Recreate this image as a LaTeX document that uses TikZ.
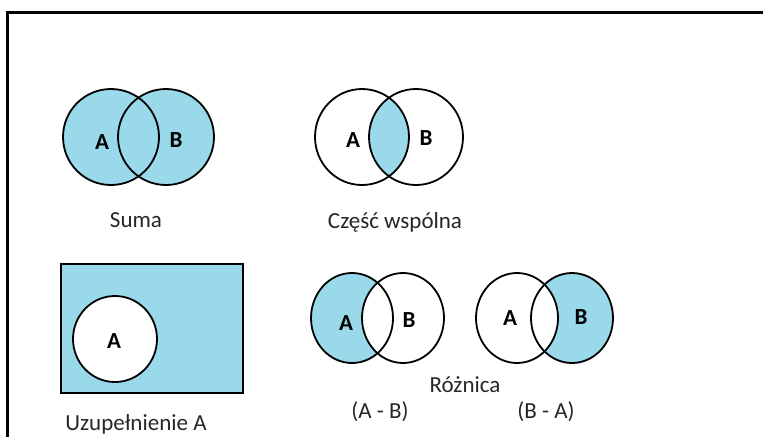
\documentclass[tikz,border=0pt]{standalone}
\usepackage{fontspec}
\setmainfont{Carlito}
\definecolor{setblue}{RGB}{153,217,234}
\tikzset{
  setline/.style={line width=1.8pt, draw=black},
  lbl/.style={font=\fontsize{23}{27}\selectfont\bfseries, inner sep=0pt},
  captext/.style={font=\fontsize{23}{27}\selectfont, inner sep=0pt, anchor=base, text=black!85}
}
\begin{document}
\begin{tikzpicture}[x=1pt, y=-1pt]
  \useasboundingbox (0, 0) rectangle (763, 437);

  %% frame
  \draw[line width=3pt](7, 437) to (7, 12) to (763, 12);

  %%Suma
  \fill[setblue](111, 137) circle [x radius=48, y radius=48];
  \fill[setblue](166, 137) circle [x radius=48, y radius=48];
  \draw[setline](111, 137) circle [x radius=48, y radius=48];
  \draw[setline](166, 137) circle [x radius=48, y radius=48];
    \node[lbl] (sumaA) at (102, 142) {A};
    \node[lbl] (sumaB) at (176, 140) {B};
  \node[captext] (suma) at (136, 227) {Suma};

  %%Czesc wspolna
  \begin{scope}
    \clip (362, 137) circle [x radius=47, y radius=48];
    \fill[setblue](416, 137) circle [x radius=47, y radius=48];
  \end{scope}
  \draw[setline](362, 137) circle [x radius=47, y radius=48];
  \draw[setline](416, 137) circle [x radius=47, y radius=48];
    \node[lbl] (czescA) at (353, 140) {A};
    \node[lbl] (czescB) at (426, 138) {B};
  \node[captext] (czesc) at (395, 228) {Część wspólna};

  %%Uzupelnienie
  \draw[setline, fill=setblue](61, 264) rectangle (243, 393);
  \draw[setline, fill=white](115, 339) circle [x radius=42, y radius=43];
    \node[lbl] (uzupA) at (114, 341) {A};
  \node[captext] (uzup) at (136, 430) {Uzupełnienie A};

  %%Roznica A - B
  \fill[setblue](352, 318) circle [x radius=41, y radius=45];
  \fill[white](403, 318) circle [x radius=41, y radius=45];
  \draw[setline](352, 318) circle [x radius=41, y radius=45];
  \draw[setline](403, 318) circle [x radius=41, y radius=45];
    \node[lbl] (roznAB_A) at (346, 323) {A};
    \node[lbl] (roznAB_B) at (409, 320) {B};

  %%Roznica B - A
  \fill[setblue](572, 318) circle [x radius=41, y radius=45];
  \fill[white](517, 318) circle [x radius=41, y radius=45];
  \draw[setline](517, 318) circle [x radius=41, y radius=45];
  \draw[setline](572, 318) circle [x radius=41, y radius=45];
    \node[lbl] (roznBA_A) at (510, 318) {A};
    \node[lbl] (roznBA_B) at (581, 317) {B};

  \node[captext] (rozn) at (465, 392) {Różnica};
  \node[captext] (roznAB) at (380, 418) {(A - B)};
  \node[captext] (roznBA) at (546, 418) {(B - A)};
\end{tikzpicture}
\end{document}
